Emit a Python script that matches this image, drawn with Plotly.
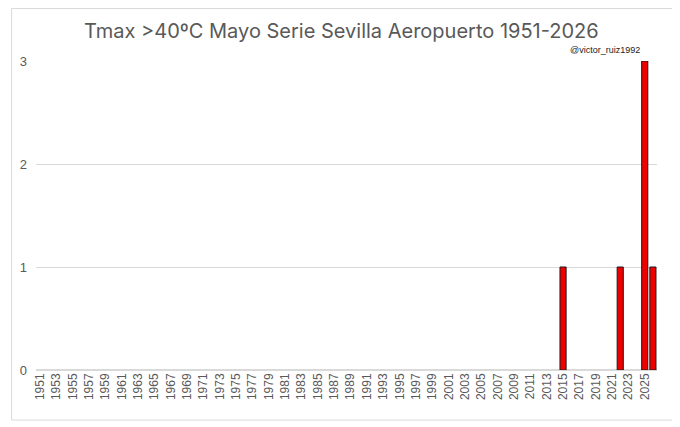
import plotly.graph_objects as go

years = [str(y) for y in range(1951, 2027)]
dias = [0] * len(years)
dias[years.index('2015')] = 1
dias[years.index('2022')] = 1
dias[years.index('2025')] = 3
dias[years.index('2026')] = 1

tickYears = [str(y) for y in range(1951, 2027, 2)]

# no outline on the empty years
lineWidths = [1 if d > 0 else 0 for d in dias]

fig = go.Figure()
fig.add_trace(
    go.Bar(
        x = years,
        y = dias,
        marker = dict(color = '#ee0000', line = dict(color = '#1a1a1a', width = lineWidths)),
        hovertemplate = 'Año: %{x}<br>Días: %{y}<extra></extra>'
    )
)

# page body has an 8px margin, so the figure is a bit smaller than the window
fig.update_layout(
    title = dict(text = 'Tmax >40ºC Mayo Serie Sevilla Aeropuerto 1951-2026',
                 x = 0.496, xanchor = 'center', y = 0.945, yanchor = 'middle',
                 font = dict(family = 'Inter, Roboto, sans-serif', size = 20, color = '#595959')),
    width = 672,
    height = 419,
    margin = dict(l = 25, r = 23, t = 53, b = 57),
    plot_bgcolor = 'white',
    paper_bgcolor = 'white',
    bargap = 0.25,
    showlegend = False,
    xaxis = dict(
        type = 'category',
        tickmode = 'array',
        tickvals = tickYears,
        ticktext = tickYears,
        tickangle = -90,
        tickfont = dict(family = 'Liberation Sans, Arial, sans-serif', size = 12, color = '#595959'),
        showgrid = False,
        showline = False,
        ticks = '',
        zeroline = False
    ),
    yaxis = dict(
        range = [0, 3],
        dtick = 1,
        tickfont = dict(family = 'Liberation Sans, Arial, sans-serif', size = 13, color = '#595959'),
        gridcolor = '#d9d9d9',
        gridwidth = 1,
        zeroline = True,
        zerolinecolor = '#d9d9d9',
        ticks = '',
        ticklabelstandoff = 8
    ),
    shapes = [
        dict(type = 'rect', xref = 'paper', yref = 'paper',
             x0 = -0.0393, x1 = 1.029, y0 = -0.162, y1 = 1.170,
             line = dict(color = '#d9d9d9', width = 1), layer = 'below')
    ],
    annotations = [
        dict(text = '@victor_ruiz1992', xref = 'paper', yref = 'paper',
             x = 0.917, y = 1.036, xanchor = 'center', yanchor = 'middle',
             showarrow = False,
             font = dict(family = 'Liberation Sans, Arial, sans-serif', size = 9, color = '#222222'))
    ]
)

fig.write_html("out.html")
